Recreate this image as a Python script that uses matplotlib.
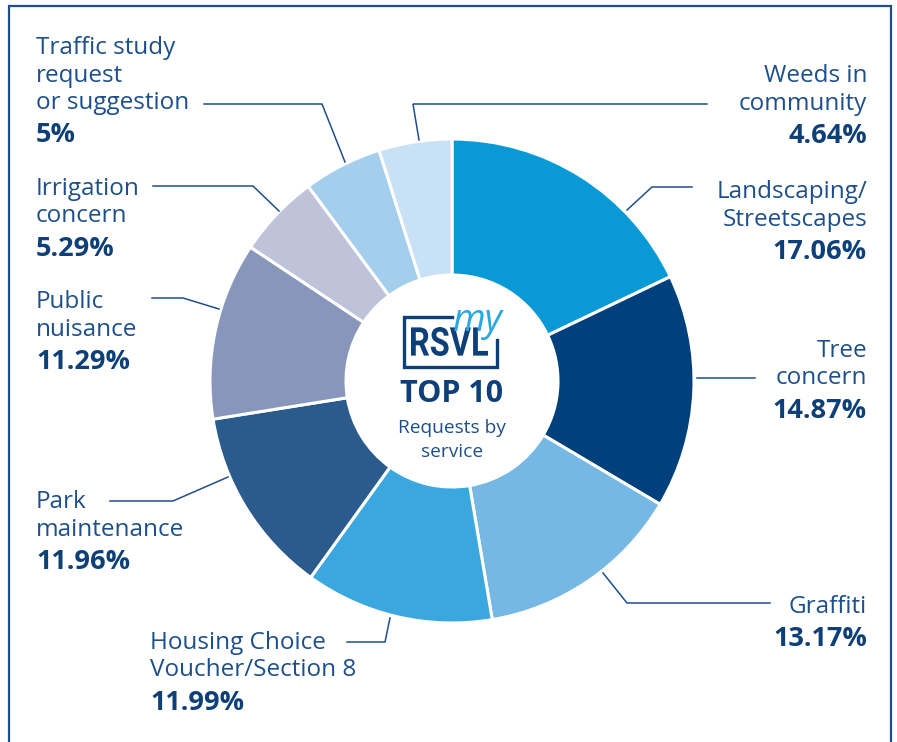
import matplotlib
matplotlib.use("Agg")
import matplotlib.pyplot as plt
from matplotlib.textpath import TextPath
from matplotlib.patches import PathPatch
from matplotlib.font_manager import FontProperties
from matplotlib.transforms import Affine2D

categories = ["Landscaping/\nStreetscapes", "Tree\nconcern", "Graffiti",
              "Housing Choice\nVoucher/Section 8", "Park\nmaintenance",
              "Public\nnuisance", "Irrigation\nconcern",
              "Traffic study\nrequest\nor suggestion", "Weeds in\ncommunity"]
values = [17.06, 14.87, 13.17, 11.99, 11.96, 11.29, 5.29, 5, 4.64]
pct_labels = ["17.06%", "14.87%", "13.17%", "11.99%", "11.96%",
              "11.29%", "5.29%", "5%", "4.64%"]
colors = ["#0899d6", "#00417d", "#75b8e3", "#3aa8df", "#2b5a8d",
          "#8796ba", "#bec3da", "#a3ceec", "#c9e1f4"]

W, H = 897, 742
NAVY = "#1d4f8b"
DARK = "#0d3f78"
FONT = "Open Sans"

fig = plt.figure(figsize=(W / 100, H / 100), dpi=100)
ax = fig.add_axes([0, 0, 1, 1])
ax.set_xlim(0, W)
ax.set_ylim(0, H)
ax.set_aspect("equal")
ax.axis("off")


def Y(py):
    return H - py


# frame
ax.plot([9, 9, 891, 891], [0, Y(6), Y(6), 0], color="#1f4e8c", lw=1.6,
        solid_joinstyle="miter")

cx, cy, R, r = 452, 381, 242, 106
ax.pie(values, colors=colors, startangle=90, counterclock=False,
       radius=R, center=(cx, Y(cy)),
       wedgeprops=dict(width=R - r, edgecolor="white", linewidth=2.2))
ax.set_xlim(0, W)
ax.set_ylim(0, H)

label_specs = [
    (867, 189, "right"),   # Landscaping
    (867, 348, "right"),   # Tree
    (867, 604, "right"),   # Graffiti
    (150, 640, "left"),    # Housing
    (36, 499, "left"),     # Park
    (36, 299, "left"),     # Public
    (36, 186, "left"),     # Irrigation
    (36, 45, "left"),      # Traffic
    (867, 73, "right"),    # Weeds
]
LS = 27.5
FS = 17.5
PFS = 19.5
for cat, pct, (x, y0, ha) in zip(categories, pct_labels, label_specs):
    lines = cat.split("\n")
    for i, ln in enumerate(lines):
        ax.text(x, Y(y0 + i * LS), ln, ha=ha, va="center_baseline",
                fontsize=FS, color=NAVY, family=FONT)
    ax.text(x, Y(y0 + len(lines) * LS + 5), pct, ha=ha, va="center_baseline",
            fontsize=PFS, color=DARK, family=FONT, fontweight="bold")

leaders = [
    [(692, 187), (652, 187), (627, 210)],   # Landscaping
    [(755, 378), (697, 378)],               # Tree
    [(770, 603), (627, 603), (603, 573)],   # Graffiti
    [(347, 642), (385, 642), (390, 618)],   # Housing
    [(110, 501), (173, 501), (228, 477)],   # Park
    [(152, 298), (183, 298), (219, 309)],   # Public
    [(153, 186), (253, 186), (279, 211)],   # Irrigation
    [(204, 104), (322, 104), (345, 162)],   # Traffic
    [(707, 104), (413, 104), (419, 140)],   # Weeds
]
for pts in leaders:
    ax.plot([p[0] for p in pts], [Y(p[1]) for p in pts], color="#1f4e8c",
            lw=1.1, solid_joinstyle="miter")

# center logo
ax.plot([452, 404, 404, 497, 497], [Y(317), Y(317), Y(367), Y(367), Y(340)],
        color=DARK, lw=2.4, solid_joinstyle="miter")
fp = FontProperties(family="Roboto", weight="bold")
tp = TextPath((0, 0), "RSVL", size=1, prop=fp)
ext = tp.get_extents()
x0, x1, y0b, y1b = 411, 488, 356, 327
sx = (x1 - x0) / ext.width
sy = (y0b - y1b) / ext.height
tr = Affine2D().translate(-ext.x0, -ext.y0).scale(sx, sy).translate(x0, Y(y0b))
ax.add_patch(PathPatch(tr.transform_path(tp), facecolor=DARK, edgecolor="none"))
ax.text(478, Y(317), "my", ha="center", va="center_baseline", fontsize=27,
        color="#29a8e0", family=FONT, style="italic")

ax.text(452, Y(391), "TOP 10", ha="center", va="center_baseline", fontsize=22,
        color=DARK, family=FONT, fontweight="bold")
ax.text(452, Y(426), "Requests by", ha="center", va="center_baseline",
        fontsize=13.8, color=NAVY, family=FONT)
ax.text(452, Y(450), "service", ha="center", va="center_baseline",
        fontsize=13.8, color=NAVY, family=FONT)

fig.savefig("out.png", dpi=100)
